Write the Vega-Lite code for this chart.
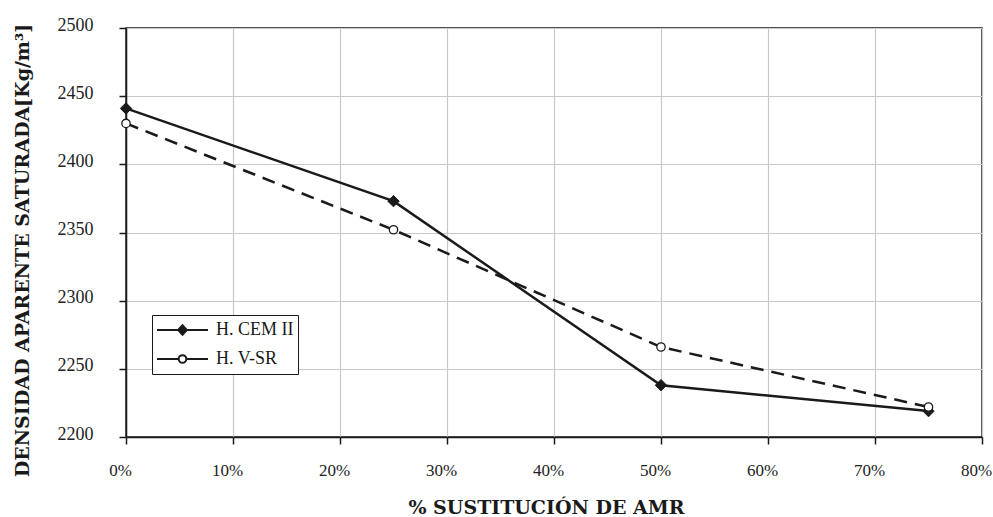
{
  "$schema": "https://vega.github.io/schema/vega-lite/v6.json",
  "width": 856,
  "height": 409,
  "autosize": {"type": "none"},
  "padding": {"left": 126, "top": 28, "right": 11, "bottom": 80},
  "background": "white",
  "data": {
    "values": [
      {"sust": 0, "densidad": 2441, "serie": "H. CEM II"},
      {"sust": 0.25, "densidad": 2373, "serie": "H. CEM II"},
      {"sust": 0.5, "densidad": 2238, "serie": "H. CEM II"},
      {"sust": 0.75, "densidad": 2219, "serie": "H. CEM II"},
      {"sust": 0, "densidad": 2430, "serie": "H. V-SR"},
      {"sust": 0.25, "densidad": 2352, "serie": "H. V-SR"},
      {"sust": 0.5, "densidad": 2266, "serie": "H. V-SR"},
      {"sust": 0.75, "densidad": 2222, "serie": "H. V-SR"}
    ]
  },
  "encoding": {
    "x": {
      "field": "sust",
      "type": "quantitative",
      "scale": {"domain": [0, 0.8], "nice": false, "zero": false},
      "axis": {
        "values": [0, 0.1, 0.2, 0.3, 0.4, 0.5, 0.6, 0.7, 0.8],
        "format": ".0%",
        "title": "% SUSTITUCIÓN DE AMR",
        "titleFont": "DejaVu Serif",
        "titleFontWeight": "bold",
        "titleFontSize": 19,
        "titleColor": "#1a1a1a",
        "titleX": 420,
        "titleY": 76,
        "titleBaseline": "alphabetic",
        "labelFont": "Liberation Serif",
        "labelFontSize": 17,
        "labelColor": "#222222",
        "labelBaseline": "alphabetic",
        "labelPadding": 31,
        "labelOffset": -6,
        "labelFlush": false,
        "labelOverlap": false,
        "tickSize": 7,
        "tickColor": "#1a1a1a",
        "tickWidth": 1.5,
        "domainColor": "#1a1a1a",
        "domainWidth": 1.5,
        "grid": true,
        "gridColor": "#c8c8c8",
        "gridWidth": 1.2
      }
    },
    "y": {
      "field": "densidad",
      "type": "quantitative",
      "scale": {"domain": [2200, 2500], "nice": false, "zero": false},
      "axis": {
        "values": [2200, 2250, 2300, 2350, 2400, 2450, 2500],
        "format": "d",
        "title": "DENSIDAD APARENTE SATURADA[Kg/m³]",
        "titleFont": "DejaVu Serif",
        "titleFontWeight": "bold",
        "titleFontSize": 19,
        "titleColor": "#1a1a1a",
        "titleX": -98,
        "titleY": 222,
        "titleBaseline": "alphabetic",
        "labelFont": "Liberation Serif",
        "labelFontSize": 18,
        "labelColor": "#222222",
        "labelPadding": 26,
        "labelOffset": -3,
        "labelFlush": false,
        "labelOverlap": false,
        "tickSize": 7,
        "tickColor": "#1a1a1a",
        "tickWidth": 1.5,
        "domainColor": "#1a1a1a",
        "domainWidth": 1.5,
        "grid": true,
        "gridColor": "#c8c8c8",
        "gridWidth": 1.2
      }
    }
  },
  "layer": [
    {
      "transform": [{"filter": "datum.serie === 'H. CEM II'"}],
      "mark": {"type": "line", "color": "#1a1a1a", "strokeWidth": 2.5},
      "encoding": {}
    },
    {
      "transform": [{"filter": "datum.serie === 'H. V-SR'"}],
      "mark": {"type": "line", "color": "#1a1a1a", "strokeWidth": 2.5, "strokeDash": [13, 8]},
      "encoding": {}
    },
    {
      "transform": [{"filter": "datum.serie === 'H. CEM II'"}],
      "mark": {"type": "point", "shape": "diamond", "filled": true, "fill": "#1a1a1a", "stroke": "#1a1a1a", "strokeWidth": 1, "size": 130, "opacity": 1}
    },
    {
      "transform": [{"filter": "datum.serie === 'H. V-SR'"}],
      "mark": {"type": "point", "shape": "circle", "filled": true, "fill": "white", "stroke": "#1a1a1a", "strokeWidth": 1.3, "size": 70, "opacity": 1}
    },
    {
      "mark": {"type": "point", "filled": true, "strokeWidth": 2, "opacity": 0},
      "encoding": {
        "shape": {
          "field": "serie",
          "type": "nominal",
          "scale": {
            "domain": ["H. CEM II", "H. V-SR"],
            "range": [
              "M-1,0H1M-0.17,0L0,-0.19L0.17,0L0,0.19Z",
              "M-1,0H-0.15M0.15,0H1M-0.15,0A0.15,0.15 0 1,0 0.15,0A0.15,0.15 0 1,0 -0.15,0Z"
            ]
          },
          "legend": {
            "orient": "none",
            "legendX": 26,
            "legendY": 287,
            "title": null,
            "strokeColor": "#1a1a1a",
            "fillColor": "white",
            "padding": 4,
            "rowPadding": 7,
            "clipHeight": 22,
            "symbolSize": 2601,
            "symbolOpacity": 1,
            "symbolStrokeWidth": 2,
            "symbolStrokeColor": "#1a1a1a",
            "labelOffset": 7,
            "labelFont": "Liberation Serif",
            "labelFontSize": 18,
            "labelColor": "#1a1a1a",
            "labelLimit": 200
          }
        },
        "fill": {
          "field": "serie",
          "type": "nominal",
          "scale": {"domain": ["H. CEM II", "H. V-SR"], "range": ["#1a1a1a", "white"]},
          "legend": {
            "orient": "none",
            "legendX": 26,
            "legendY": 287,
            "title": null,
            "strokeColor": "#1a1a1a",
            "fillColor": "white",
            "padding": 4,
            "rowPadding": 7,
            "clipHeight": 22,
            "symbolSize": 2601,
            "symbolOpacity": 1,
            "symbolStrokeWidth": 2,
            "symbolStrokeColor": "#1a1a1a",
            "labelOffset": 7,
            "labelFont": "Liberation Serif",
            "labelFontSize": 18,
            "labelColor": "#1a1a1a",
            "labelLimit": 200
          }
        },
        "stroke": {
          "field": "serie",
          "type": "nominal",
          "scale": {"domain": ["H. CEM II", "H. V-SR"], "range": ["#1a1a1a", "#1a1a1a"]},
          "legend": {
            "orient": "none",
            "legendX": 26,
            "legendY": 287,
            "title": null,
            "strokeColor": "#1a1a1a",
            "fillColor": "white",
            "padding": 4,
            "rowPadding": 7,
            "clipHeight": 22,
            "symbolSize": 2601,
            "symbolOpacity": 1,
            "symbolStrokeWidth": 2,
            "symbolStrokeColor": "#1a1a1a",
            "labelOffset": 7,
            "labelFont": "Liberation Serif",
            "labelFontSize": 18,
            "labelColor": "#1a1a1a",
            "labelLimit": 200
          }
        }
      }
    }
  ],
  "config": {
    "view": {"stroke": "#1a1a1a", "strokeWidth": 1.5}
  }
}
